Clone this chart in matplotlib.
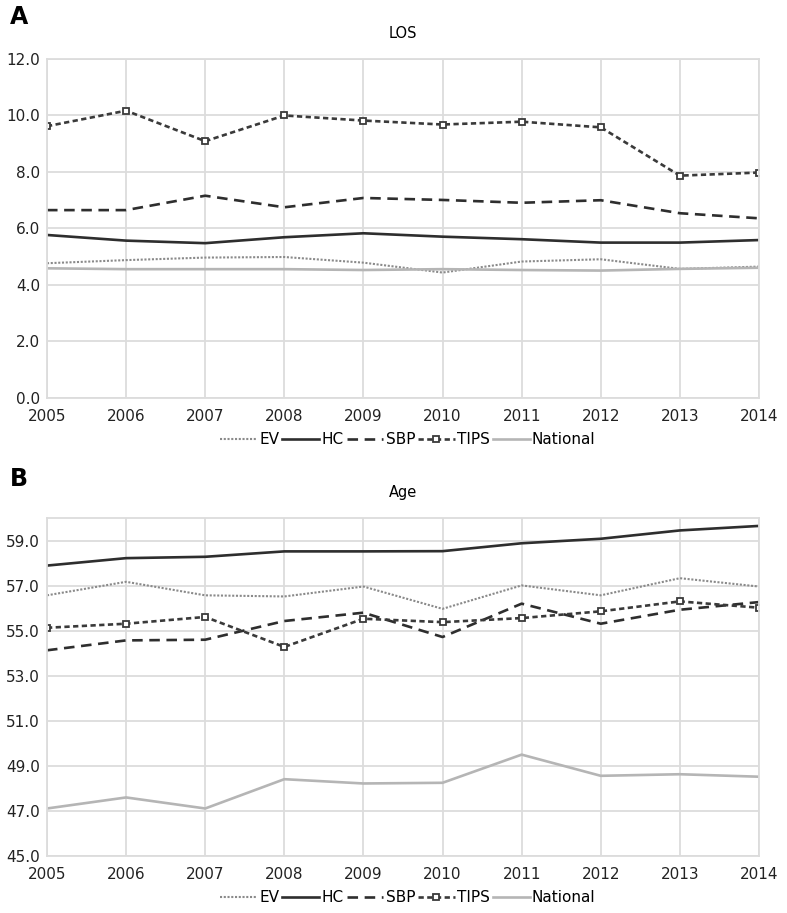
"""LOS and Age trends 2005-2014, two stacked line panels."""
import numpy as np, matplotlib
matplotlib.use('Agg')
import matplotlib.pyplot as plt
from matplotlib.ticker import FormatStrFormatter

years = [2005, 2006, 2007, 2008, 2009, 2010, 2011, 2012, 2013, 2014]

# Panel A: length of stay
los_ev = [4.77, 4.88, 4.97, 4.99, 4.79, 4.44, 4.83, 4.91, 4.57, 4.65]
los_hc = [5.77, 5.57, 5.48, 5.69, 5.83, 5.71, 5.62, 5.50, 5.50, 5.59]
los_sbp = [6.65, 6.65, 7.16, 6.75, 7.08, 7.01, 6.91, 7.00, 6.54, 6.36]
los_tips = [9.62, 10.17, 9.09, 10.00, 9.82, 9.68, 9.78, 9.58, 7.87, 7.98]
los_nat = [4.59, 4.56, 4.56, 4.56, 4.53, 4.56, 4.53, 4.51, 4.57, 4.61]

# Panel B: age
age_ev = [56.57, 57.17, 56.57, 56.52, 56.96, 55.97, 57.01, 56.57, 57.33, 56.96]
age_hc = [57.89, 58.22, 58.28, 58.52, 58.52, 58.53, 58.88, 59.08, 59.45, 59.65]
age_sbp = [54.13, 54.57, 54.60, 55.43, 55.80, 54.72, 56.20, 55.31, 55.93, 56.27]
age_tips = [55.13, 55.31, 55.61, 54.28, 55.53, 55.38, 55.56, 55.86, 56.30, 56.02]
age_nat = [47.11, 47.60, 47.11, 48.41, 48.22, 48.25, 49.50, 48.56, 48.63, 48.52]

series_names = ['EV', 'HC', 'SBP', 'TIPS', 'National']

styles = {
    'EV': dict(color='#8a8a8a', lw=1.5, ls=(0, (1, 0.8))),
    'HC': dict(color='#2e2e2e', lw=1.9, ls='-'),
    'SBP': dict(color='#2e2e2e', lw=1.9, ls=(0, (4, 2.5))),
    'TIPS': dict(color='#3a3a3a', lw=1.9, ls=(0, (2, 1.3)), marker='s', ms=5,
                 mfc='white', mec='#3a3a3a', mew=1.3),
    'National': dict(color='#b5b5b5', lw=1.9, ls='-'),
}

plt.rcParams['font.family'] = ['DejaVu Sans']
fig = plt.figure(figsize=(7.87, 9.13), dpi=100)


def panel(rect, data, ylim, yticks, title, letter, letter_y):
    ax = fig.add_axes(rect)
    for name, vals in zip(series_names, data):
        ax.plot(years, vals, label=name, **styles[name])
    ax.set_xlim(years[0], years[-1])
    ax.set_ylim(*ylim)
    ax.set_xticks(years)
    ax.set_yticks(yticks)
    ax.yaxis.set_major_formatter(FormatStrFormatter('%.1f'))
    ax.grid(True, color='#dcdcdc', lw=1.3)
    ax.set_axisbelow(True)
    for s in ax.spines.values():
        s.set_color('#dcdcdc')
        s.set_linewidth(1.3)
    ax.tick_params(length=0, labelsize=11, colors='#222222')
    ax.tick_params(axis='x', pad=8)
    ax.tick_params(axis='y', pad=5)
    ax.set_title(title, fontsize=10.5, pad=15)
    fig.text(0.012, letter_y, letter, fontsize=17, fontweight='bold', va='center')
    ax.legend(loc='center', bbox_to_anchor=(0.507, -0.123), ncol=5,
              frameon=False, fontsize=11, handlelength=2.4,
              handletextpad=0.15, columnspacing=0.2, borderaxespad=0)
    return ax


panel([0.0597, 0.5641, 0.9047, 0.3713],
      [los_ev, los_hc, los_sbp, los_tips, los_nat],
      (0, 12), np.arange(0, 12.1, 2), 'LOS', 'A', 0.981)
panel([0.0597, 0.0624, 0.9047, 0.3702],
      [age_ev, age_hc, age_sbp, age_tips, age_nat],
      (45, 60), np.arange(45, 59.1, 2), 'Age', 'B', 0.475)

fig.savefig('out.png', dpi=100)
print('Saved out.png')
